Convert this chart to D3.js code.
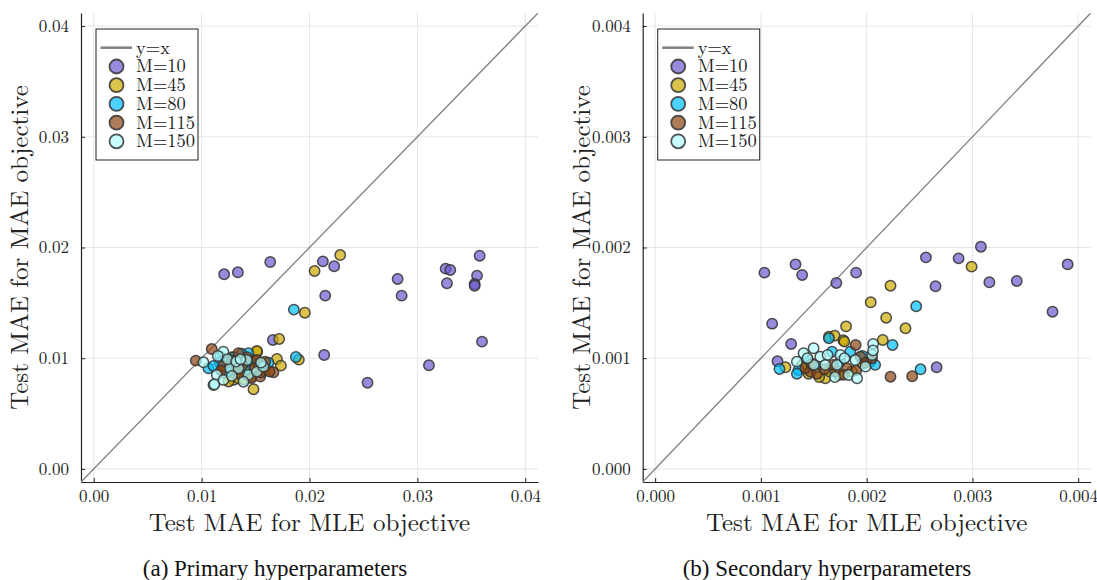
<!DOCTYPE html>
<html>
<head>
<meta charset="utf-8">
<script src="https://cdn.jsdelivr.net/npm/d3@7"></script>
<style>
  html, body { margin: 0; padding: 0; background: #fff; }
  svg { display: block; }
</style>
</head>
<body>
<svg id="chart" width="1097" height="580"></svg>
<script>
// ---- data: [MLE objective MAE, MAE objective MAE] pairs per model size ----
const seriesLabels = ["M=10", "M=45", "M=80", "M=115", "M=150"];

// (a) primary hyperparameters
const primaryM10 = [
  [0.01209, 0.01758], [0.01336, 0.01776], [0.01636, 0.01869], [0.02124, 0.01875],
  [0.02229, 0.01830], [0.02146, 0.01565], [0.02817, 0.01716], [0.02854, 0.01565],
  [0.03262, 0.01809], [0.03305, 0.01797], [0.03274, 0.01677], [0.03577, 0.01926],
  [0.03553, 0.01746], [0.03531, 0.01670], [0.03531, 0.01655], [0.03599, 0.01150],
  [0.02136, 0.01029], [0.03107, 0.00936], [0.02538, 0.00779], [0.01660, 0.01165]
];
const primaryM45 = [
  [0.02285, 0.01932], [0.02047, 0.01788], [0.01957, 0.01411], [0.01719, 0.01174],
  [0.01901, 0.00987], [0.01698, 0.00993], [0.01735, 0.00933], [0.01515, 0.01059],
  [0.01481, 0.00720], [0.01295, 0.00804], [0.01342, 0.00819], [0.01512, 0.01065],
  [0.01250, 0.00790], [0.01390, 0.00810], [0.01450, 0.00830], [0.01320, 0.00950],
  [0.01210, 0.00870], [0.01580, 0.00890], [0.01280, 0.01010], [0.01400, 0.00880]
];
const primaryM80 = [
  [0.01855, 0.01439], [0.01874, 0.01011], [0.01064, 0.00909], [0.01172, 0.01014],
  [0.01434, 0.01045], [0.01370, 0.01040], [0.01520, 0.00950], [0.01170, 0.00960],
  [0.01300, 0.01010], [0.01450, 0.00970], [0.01580, 0.00920], [0.01240, 0.00880],
  [0.01410, 0.00900], [0.01110, 0.00930], [0.01620, 0.00960]
];
const primaryM115 = [
  [0.00946, 0.00978], [0.01094, 0.01083], [0.01589, 0.00969], [0.01666, 0.00873],
  [0.01342, 0.01045], [0.01512, 0.00984], [0.01543, 0.00834], [0.01200, 0.00930],
  [0.01280, 0.00980], [0.01350, 0.00860], [0.01420, 0.01010], [0.01490, 0.00910],
  [0.01550, 0.00870], [0.01320, 0.00900], [0.01180, 0.00890], [0.01460, 0.00820],
  [0.01630, 0.00880], [0.01380, 0.00940]
];
const primaryM150 = [
  [0.01017, 0.00963], [0.01110, 0.00758], [0.01202, 0.01059], [0.01141, 0.00849],
  [0.01119, 0.00765], [0.01202, 0.00804], [0.01311, 0.00969], [0.01264, 0.00909],
  [0.01342, 0.00909], [0.01434, 0.00849], [0.01388, 0.00788], [0.01512, 0.00879],
  [0.01573, 0.00924], [0.01419, 0.00984], [0.01240, 0.00990], [0.01320, 0.00970],
  [0.01360, 0.00990], [0.01550, 0.00960], [0.01280, 0.00840], [0.01150, 0.01020]
];

// (b) secondary hyperparameters
const secondaryM10 = [
  [0.001033, 0.001773], [0.001327, 0.001848], [0.001390, 0.001752], [0.001713, 0.001680],
  [0.001900, 0.001773], [0.002560, 0.001911], [0.002869, 0.001902], [0.003080, 0.002007],
  [0.002651, 0.001650], [0.003160, 0.001686], [0.003419, 0.001698], [0.003900, 0.001848],
  [0.003757, 0.001420], [0.001106, 0.001312], [0.001286, 0.001129], [0.001157, 0.000972],
  [0.002661, 0.000918]
];
const secondaryM45 = [
  [0.002992, 0.001827], [0.002225, 0.001655], [0.002038, 0.001505], [0.002184, 0.001366],
  [0.002367, 0.001270], [0.001805, 0.001288], [0.001232, 0.000918], [0.001643, 0.001195],
  [0.001697, 0.001204], [0.001779, 0.001162], [0.002152, 0.001165], [0.001789, 0.001150],
  [0.001608, 0.000819], [0.001735, 0.000849], [0.001450, 0.000860], [0.001550, 0.000830],
  [0.001860, 0.000880], [0.001960, 0.000950], [0.001390, 0.000940], [0.001650, 0.000880]
];
const secondaryM80 = [
  [0.002468, 0.001469], [0.001175, 0.000903], [0.001643, 0.001180], [0.002244, 0.001120],
  [0.002509, 0.000900], [0.001355, 0.000894], [0.001672, 0.001059], [0.002035, 0.000969],
  [0.001845, 0.001059], [0.001440, 0.000990], [0.001520, 0.000920], [0.001750, 0.000970],
  [0.001960, 0.001020], [0.002080, 0.000940], [0.001340, 0.000860]
];
const secondaryM115 = [
  [0.001896, 0.001120], [0.002225, 0.000833], [0.002430, 0.000837], [0.001466, 0.000879],
  [0.001703, 0.000879], [0.001940, 0.001014], [0.001814, 0.000909], [0.001420, 0.000910],
  [0.001530, 0.000860], [0.001600, 0.000900], [0.001780, 0.000850], [0.001900, 0.000890],
  [0.001990, 0.000960], [0.001480, 0.000950], [0.001680, 0.000940], [0.002050, 0.001000]
];
const secondaryM150 = [
  [0.001498, 0.001090], [0.002061, 0.001129], [0.001403, 0.001045], [0.001340, 0.000969],
  [0.001561, 0.001014], [0.001751, 0.001029], [0.001719, 0.000939], [0.001608, 0.000939],
  [0.001829, 0.000849], [0.001909, 0.000819], [0.001893, 0.000984], [0.001988, 0.000924],
  [0.002051, 0.001029], [0.001500, 0.000940], [0.001630, 0.001030], [0.001790, 0.001000],
  [0.001440, 0.001000], [0.002060, 0.001070], [0.001700, 0.000830]
];

const primaryTicks = [0.00, 0.01, 0.02, 0.03, 0.04];
const secondaryTicks = [0.000, 0.001, 0.002, 0.003, 0.004];
const primaryDomain = [-0.00118, 0.04118];
const secondaryDomain = [-0.000118, 0.004118];

// ---- styling ----
const palette = ["#6a5acd", "#cda900", "#00bfff", "#8b4513", "#b0ffff"];
const plotFont = "'Latin Modern Roman', 'CMU Serif', 'Liberation Serif', serif";
const captionFont = "'Nimbus Roman', 'Liberation Serif', serif";
const svg = d3.select("#chart");

function drawPanel(opts) {
  const { left, right, top, bottom, domain, ticks, fmt, series, caption, captionX } = opts;
  const x = d3.scaleLinear().domain(domain).range([left, right]);
  const y = d3.scaleLinear().domain(domain).range([bottom, top]);
  const g = svg.append("g");

  // grid
  g.append("g").selectAll("line").data(ticks).join("line")
    .attr("x1", d => x(d)).attr("x2", d => x(d))
    .attr("y1", top).attr("y2", bottom)
    .attr("stroke", "#e6e6e6").attr("stroke-width", 1);
  g.append("g").selectAll("line").data(ticks).join("line")
    .attr("x1", left).attr("x2", right)
    .attr("y1", d => y(d)).attr("y2", d => y(d))
    .attr("stroke", "#e6e6e6").attr("stroke-width", 1);

  // axes (inward ticks, left and bottom spines only)
  const xAxis = d3.axisBottom(x).tickValues(ticks).tickFormat(d3.format(fmt))
    .tickSizeInner(-4).tickSizeOuter(0).tickPadding(8);
  const yAxis = d3.axisLeft(y).tickValues(ticks).tickFormat(d3.format(fmt))
    .tickSizeInner(-4).tickSizeOuter(0).tickPadding(12);
  const gx = g.append("g").attr("transform", `translate(0,${bottom})`).call(xAxis);
  const gy = g.append("g").attr("transform", `translate(${left},0)`).call(yAxis);
  [gx, gy].forEach(a => {
    a.select(".domain").attr("stroke", "#222").attr("stroke-width", 1.2);
    a.selectAll(".tick line").attr("stroke", "#222");
    a.selectAll(".tick text").style("font-family", plotFont)
      .style("font-size", "17px").attr("fill", "#222");
  });

  // y = x reference
  const clipId = "clip" + Math.round(left);
  svg.append("clipPath").attr("id", clipId).append("rect")
    .attr("x", left).attr("y", top).attr("width", right - left).attr("height", bottom - top);
  const plot = g.append("g").attr("clip-path", `url(#${clipId})`);
  plot.append("line")
    .attr("x1", x(domain[0])).attr("y1", y(domain[0]))
    .attr("x2", x(domain[1])).attr("y2", y(domain[1]))
    .attr("stroke", "#808080").attr("stroke-width", 1.3);

  // scatter
  series.forEach((pts, i) => {
    plot.append("g").selectAll("circle").data(pts).join("circle")
      .attr("cx", d => x(d[0])).attr("cy", d => y(d[1])).attr("r", 5.2)
      .attr("fill", palette[i]).attr("fill-opacity", 0.7)
      .attr("stroke", "#333").attr("stroke-opacity", 0.85).attr("stroke-width", 1.5);
  });

  // axis titles
  g.append("text").attr("x", (left + right) / 2).attr("y", 531)
    .attr("text-anchor", "middle").attr("fill", "#222")
    .style("font-family", plotFont).style("font-size", "25px")
    .text("Test MAE for MLE objective");
  g.append("text")
    .attr("transform", `translate(${left - 53},${(top + bottom) / 2}) rotate(-90)`)
    .attr("text-anchor", "middle").attr("fill", "#222")
    .style("font-family", plotFont).style("font-size", "25px")
    .text("Test MAE for MAE objective");

  // legend
  const lx = left + 15, ly = 29;
  const lg = g.append("g");
  lg.append("rect").attr("x", lx).attr("y", ly).attr("width", 102).attr("height", 131)
    .attr("fill", "#fff").attr("stroke", "#222").attr("stroke-width", 1);
  lg.append("line").attr("x1", lx + 4.5).attr("x2", lx + 36).attr("y1", ly + 18.7).attr("y2", ly + 18.7)
    .attr("stroke", "#808080").attr("stroke-width", 2.5);
  lg.append("text").attr("x", lx + 40).attr("y", ly + 18.7).attr("dy", "0.32em")
    .attr("fill", "#222").style("font-family", plotFont).style("font-size", "18.5px").text("y=x");
  seriesLabels.forEach((lab, i) => {
    const cy = ly + 37.5 + i * 18.7;
    lg.append("circle").attr("cx", lx + 20.5).attr("cy", cy).attr("r", 7)
      .attr("fill", palette[i]).attr("fill-opacity", 0.7)
      .attr("stroke", "#333").attr("stroke-opacity", 0.85).attr("stroke-width", 1.8);
    lg.append("text").attr("x", lx + 40).attr("y", cy).attr("dy", "0.32em")
      .attr("fill", "#222").style("font-family", plotFont).style("font-size", "18.5px").text(lab);
  });

  // caption
  svg.append("text").attr("x", captionX).attr("y", 576).attr("text-anchor", "middle")
    .attr("fill", "#111").style("font-family", captionFont).style("font-size", "23px")
    .text(caption);
}

drawPanel({
  left: 81, right: 538, top: 13, bottom: 482,
  domain: primaryDomain, ticks: primaryTicks, fmt: ".2f",
  series: [primaryM10, primaryM45, primaryM80, primaryM115, primaryM150],
  caption: "(a) Primary hyperparameters", captionX: 275
});
drawPanel({
  left: 642.7, right: 1090.7, top: 13, bottom: 482,
  domain: secondaryDomain, ticks: secondaryTicks, fmt: ".3f",
  series: [secondaryM10, secondaryM45, secondaryM80, secondaryM115, secondaryM150],
  caption: "(b) Secondary hyperparameters", captionX: 827
});
</script>
</body>
</html>
